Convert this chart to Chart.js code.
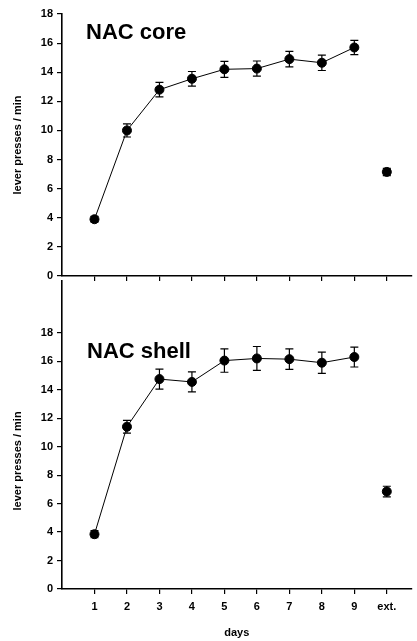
<!DOCTYPE html>
<html>
<head>
<meta charset="utf-8">
<script src="https://cdn.jsdelivr.net/npm/chart.js@4.4.1/dist/chart.umd.min.js"></script>
<style>
    html, body { margin: 0; padding: 0; background: #fff; }
    #wrap { position: relative; width: 417px; height: 641px; overflow: hidden; }
    canvas { position: absolute; left: 0; }
    #coreChart { top: 0; }
    #shellChart { top: 270px; }
</style>
</head>
<body>
<div id="wrap">
    <canvas id="coreChart" width="417" height="290"></canvas>
    <canvas id="shellChart" width="417" height="371"></canvas>
</div>
<script>
// Days and tick labels
const days = [1, 2, 3, 4, 5, 6, 7, 8, 9];
const extDay = 10;
const xTickValues = [1, 2, 3, 4, 5, 6, 7, 8, 9, 10];
const xLabels = ['1', '2', '3', '4', '5', '6', '7', '8', '9', 'ext.'];
const yTickValues = [0, 2, 4, 6, 8, 10, 12, 14, 16, 18];

// NAC core (mean, sem)
const coreMeans = [3.9, 10.0, 12.8, 13.55, 14.2, 14.25, 14.9, 14.65, 15.7];
const coreErrors = [0.2, 0.45, 0.5, 0.5, 0.55, 0.52, 0.53, 0.53, 0.49];
const coreExt = 7.15;
const coreExtError = 0.25;

// NAC shell (mean, sem)
const shellMeans = [3.85, 11.4, 14.75, 14.55, 16.05, 16.2, 16.15, 15.9, 16.3];
const shellErrors = [0.25, 0.45, 0.7, 0.7, 0.82, 0.84, 0.72, 0.75, 0.7];
const shellExt = 6.85;
const shellExtError = 0.37;


Chart.defaults.font.family = "'Liberation Sans', Arial, sans-serif";
Chart.defaults.font.weight = 'bold';
Chart.defaults.font.size = 11;
Chart.defaults.color = '#000';


// Error bars with caps
const errorBarPlugin = {
    id: 'errorBars',
    beforeDatasetsDraw(chart) {
        const ctx = chart.ctx;
        const xs = chart.scales.x;
        const ys = chart.scales.y;

        ctx.save();
        ctx.strokeStyle = '#000';
        ctx.lineWidth = 1.2;

        chart.data.datasets.forEach(ds => {
            ds.data.forEach((p, i) => {
                const e = ds.errors[i];
                const x = xs.getPixelForValue(p.x);
                const yTop = ys.getPixelForValue(p.y + e);
                const yBot = ys.getPixelForValue(p.y - e);

                ctx.beginPath();
                ctx.moveTo(x, yTop);
                ctx.lineTo(x, yBot);
                ctx.moveTo(x - 4, yTop);
                ctx.lineTo(x + 4, yTop);
                ctx.moveTo(x - 4, yBot);
                ctx.lineTo(x + 4, yBot);
                ctx.stroke();
            });
        });

        ctx.restore();
    }
};


// Panel name and y axis title
const panelTextPlugin = {
    id: 'panelText',
    afterDraw(chart, args, opts) {
        const ctx = chart.ctx;
        const area = chart.chartArea;
        const ys = chart.scales.y;

        ctx.save();
        ctx.fillStyle = '#000';

        ctx.font = "bold 22px 'Liberation Sans', Arial, sans-serif";
        ctx.textBaseline = 'alphabetic';
        ctx.fillText(opts.label, area.left + opts.dx, area.top + opts.dy);

        const midY = (ys.getPixelForValue(0) + ys.getPixelForValue(18)) / 2;
        ctx.translate(18, midY);
        ctx.rotate(-Math.PI / 2);
        ctx.font = "bold 11px 'Liberation Sans', Arial, sans-serif";
        ctx.textAlign = 'center';
        ctx.textBaseline = 'middle';
        ctx.fillText('lever presses / min', 0, 0);

        ctx.restore();
    }
};


// Create one panel
function createPanel(canvasId, means, errors, extMean, extError, cfg) {

    const ctx = document.getElementById(canvasId).getContext('2d');

    new Chart(ctx, {
        type: 'line',

        data: {
            datasets: [{
                data: days.map((d, i) => ({ x: d, y: means[i] })),
                errors: errors,
                borderColor: '#000',
                borderWidth: 1,
                backgroundColor: '#000',
                pointRadius: 4.5,
                pointHoverRadius: 4.5,
                tension: 0
            }, {
                data: [{ x: extDay, y: extMean }],
                errors: [extError],
                showLine: false,
                borderColor: '#000',
                backgroundColor: '#000',
                pointRadius: 4.5,
                pointHoverRadius: 4.5
            }]
        },

        options: {
            responsive: false,
            animation: false,
            events: [],

            layout: {
                padding: { top: cfg.padTop, right: 0, left: 0, bottom: 0 }
            },

            plugins: {
                legend: { display: false },
                tooltip: { enabled: false },
                panelText: { label: cfg.label, dx: cfg.labelDx, dy: cfg.labelDy }
            },

            scales: {
                x: {
                    type: 'linear',
                    min: 0,
                    max: 10.76,
                    afterBuildTicks: scale => {
                        scale.ticks = xTickValues.map(v => ({ value: v }));
                    },
                    afterFit: scale => {
                        scale.height = cfg.xHeight;
                    },
                    ticks: {
                        display: cfg.showXLabels,
                        padding: 6,
                        callback: value => xLabels[value - 1]
                    },
                    grid: {
                        drawOnChartArea: false,
                        drawTicks: true,
                        tickLength: 5,
                        color: '#000',
                        lineWidth: 1.2
                    },
                    border: { display: true, color: '#000', width: 1.6 },
                    title: {
                        display: cfg.showXLabels,
                        text: 'days',
                        padding: { top: 0, bottom: 1 }
                    }
                },

                y: {
                    type: 'linear',
                    min: 0,
                    max: cfg.yMax,
                    afterBuildTicks: scale => {
                        scale.ticks = yTickValues.map(v => ({ value: v }));
                    },
                    afterFit: scale => {
                        scale.width = 62;
                    },
                    ticks: { padding: 4 },
                    grid: {
                        drawOnChartArea: false,
                        drawTicks: true,
                        tickLength: 5,
                        color: '#000',
                        lineWidth: 1.2
                    },
                    border: { display: true, color: '#000', width: 1.6 }
                }
            }
        },

        plugins: [errorBarPlugin, panelTextPlugin]
    });
}


createPanel('coreChart', coreMeans, coreErrors, coreExt, coreExtError, {
    label: 'NAC core',
    labelDx: 24,
    labelDy: 25,
    padTop: 14,
    yMax: 18,
    xHeight: 14,
    showXLabels: false
});

createPanel('shellChart', shellMeans, shellErrors, shellExt, shellExtError, {
    label: 'NAC shell',
    labelDx: 25,
    labelDy: 77,
    padTop: 6,
    yMax: 21.67,
    xHeight: 52,
    showXLabels: true
});
</script>
</body>
</html>
